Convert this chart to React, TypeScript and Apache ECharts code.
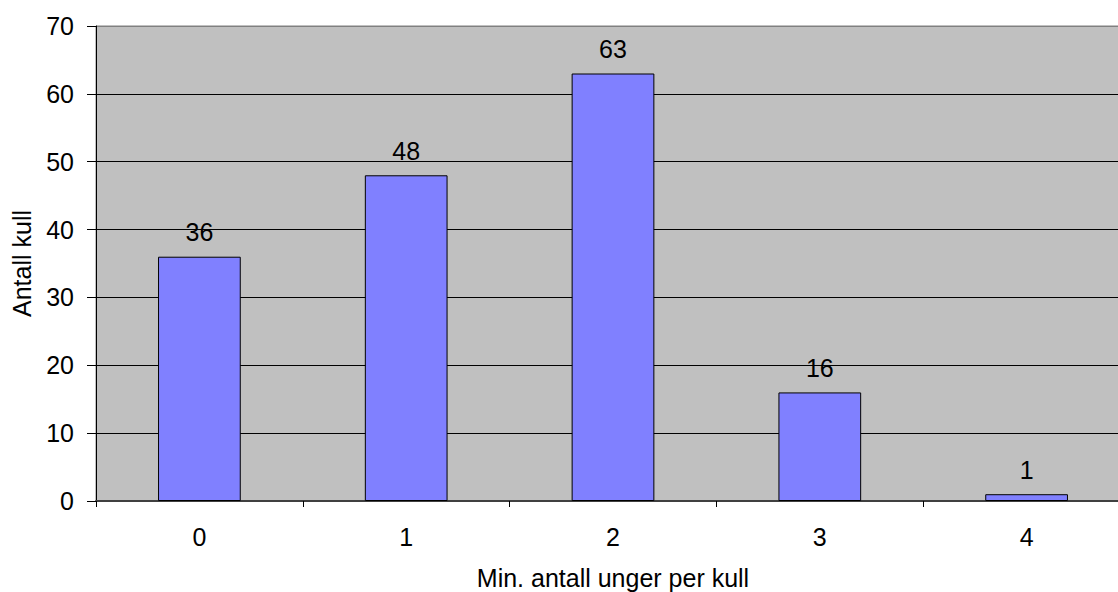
import React, { useEffect, useRef } from "react";
import * as echarts from "echarts";

// Number of chicks per litter (minimum) and how many litters had that count
const categories = ["0", "1", "2", "3", "4"];
const litterCounts = [36, 48, 63, 16, 1];
const yTicks = [0, 10, 20, 30, 40, 50, 60, 70];

const FONT = "Arial, 'Liberation Sans', sans-serif";
const FS = 25;

export default function App() {
  const ref = useRef<HTMLDivElement>(null);

  useEffect(() => {
    if (!ref.current) return;
    const chart = echarts.init(ref.current, null, { renderer: "svg" });
    const splitColors = yTicks.map((t, i) => (i === yTicks.length - 1 ? "#808080" : "#000000"));
    chart.setOption({
      animation: false,
      backgroundColor: "#ffffff",
      textStyle: { fontFamily: FONT },
      grid: {
        left: 96,
        top: 26,
        bottom: 91,
        right: -12,
        outerBoundsMode: "none",
        containLabel: false,
        show: true,
        backgroundColor: "#C0C0C0",
        borderColor: "#808080",
        borderWidth: 1,
      },
      xAxis: {
        type: "category",
        data: categories,
        boundaryGap: true,
        name: "Min. antall unger per kull",
        nameLocation: "middle",
        nameGap: 64,
        nameTextStyle: { fontSize: FS, color: "#000", fontFamily: FONT },
        axisLine: { show: true, lineStyle: { color: "#404040", width: 2 } },
        axisTick: { show: true, alignWithLabel: false, length: 6, lineStyle: { color: "#000", width: 1 } },
        axisLabel: { fontSize: FS, color: "#000", margin: 23, fontFamily: FONT },
        splitLine: { show: false },
      },
      yAxis: {
        type: "value",
        min: 0,
        max: 70,
        interval: 10,
        name: "Antall kull",
        nameLocation: "middle",
        nameGap: 62,
        nameRotate: 90,
        nameTextStyle: { fontSize: FS, color: "#000", fontFamily: FONT },
        axisLine: { show: true, lineStyle: { color: "#000", width: 1 } },
        axisTick: { show: true, length: 9, lineStyle: { color: "#000", width: 1 } },
        axisLabel: { fontSize: FS, color: "#000", margin: 22, fontFamily: FONT },
        splitLine: { show: true, lineStyle: { color: splitColors, width: 1 } },
      },
      series: [
        {
          type: "bar",
          data: litterCounts,
          barWidth: "40%",
          itemStyle: { color: "#8080FF", borderColor: "#000000", borderWidth: 1 },
          label: {
            show: true,
            position: "top",
            distance: 12,
            fontSize: FS,
            color: "#000",
            fontFamily: FONT,
          },
        },
      ],
    });
    return () => chart.dispose();
  }, []);

  return (
    <div
      ref={ref}
      style={{ position: "fixed", left: 0, top: 0, width: 1118, height: 592 }}
    />
  );
}
